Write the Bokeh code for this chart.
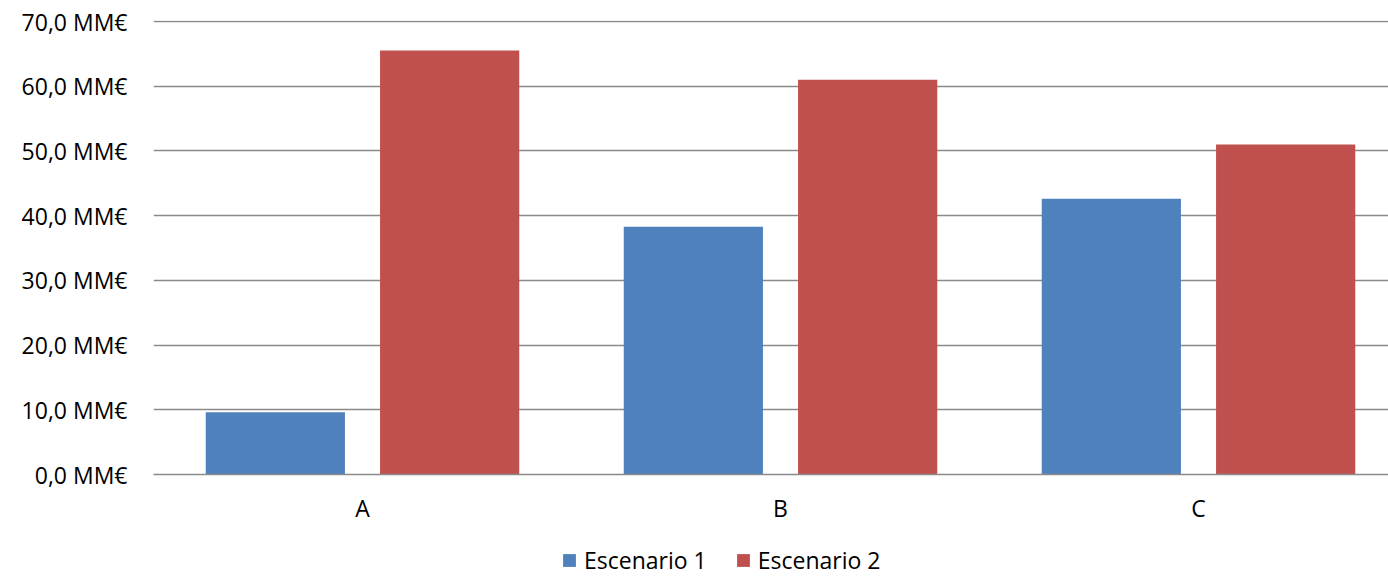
import numpy as np
from bokeh.plotting import figure
from bokeh.layouts import column
from bokeh.models import Range1d, FixedTicker, Legend, LegendItem
from bokeh.embed import file_html
from bokeh.resources import INLINE

categories = ["A", "B", "C"]
escenario_1 = [9.6, 38.3, 42.6]
escenario_2 = [65.5, 61.0, 51.0]
series_names = ["Escenario 1", "Escenario 2"]
y_ticks = [0, 10, 20, 30, 40, 50, 60, 70]
y_tick_labels = ["0,0 MM€", "10,0 MM€", "20,0 MM€", "30,0 MM€", "40,0 MM€",
                 "50,0 MM€", "60,0 MM€", "70,0 MM€"]

FONT = "Open Sans"
FS = "23px"
BLUE = "#4F81BD"
RED = "#C0504D"
GRID = "#8a8a8a"

W = 1388
H_MAIN, H_LEG = 536, 40
LEFT, TOP = 153, 20
BOTTOM = H_MAIN - 474
frame_w = W - LEFT
cat_px = 418.0
px_per_unit = 6.471
y_end = 70 + 1.0 / px_per_unit

p = figure(width=W, height=H_MAIN, output_backend="svg", toolbar_location=None,
           x_range=Range1d(0, frame_w / cat_px), y_range=Range1d(0, y_end),
           min_border_left=LEFT, min_border_right=0, min_border_top=TOP,
           min_border_bottom=BOTTOM)
p.outline_line_color = None
p.background_fill_color = "white"
p.border_fill_color = "white"

centers = np.arange(len(categories)) + 0.5
bw = 0.333
off = 0.2085
p.vbar(x=centers - off, top=escenario_1, width=bw, bottom=0,
       fill_color=BLUE, line_color=None)
p.vbar(x=centers + off, top=escenario_2, width=bw, bottom=0,
       fill_color=RED, line_color=None)

p.xaxis.ticker = FixedTicker(ticks=list(centers))
p.xaxis.major_label_overrides = {float(c): cat for c, cat in zip(centers, categories)}
p.xaxis.major_tick_line_color = None
p.xaxis.minor_tick_line_color = None
p.xaxis.axis_line_color = GRID
p.xaxis.axis_line_width = 1.5
p.xaxis.major_label_standoff = 11
p.xaxis.major_label_text_font = FONT
p.xaxis.major_label_text_font_size = FS
p.xaxis.major_label_text_color = "black"

p.yaxis.ticker = FixedTicker(ticks=y_ticks)
p.yaxis.major_label_overrides = {t: l for t, l in zip(y_ticks, y_tick_labels)}
p.yaxis.major_tick_line_color = None
p.yaxis.minor_tick_line_color = None
p.yaxis.axis_line_color = None
p.yaxis.major_label_standoff = 20
p.yaxis.major_label_text_font = FONT
p.yaxis.major_label_text_font_size = FS
p.yaxis.major_label_text_color = "black"

p.xgrid.grid_line_color = None
p.ygrid.ticker = FixedTicker(ticks=y_ticks)
p.ygrid.grid_line_color = GRID
p.ygrid.grid_line_width = 1.5

# legend strip below the chart (frames are aligned in the column)
pl = figure(width=W, height=H_LEG, output_backend="svg", toolbar_location=None,
            x_range=Range1d(0, 1), y_range=Range1d(0, 1),
            min_border_left=0, min_border_right=0, min_border_top=0,
            min_border_bottom=0)
pl.axis.visible = False
pl.grid.visible = False
pl.outline_line_color = None
# swatch renderers sit outside the visible range; only the legend shows them
l1 = pl.vbar(x=[10], top=[1], width=0.1, fill_color=BLUE, line_color=None)
l2 = pl.vbar(x=[10], top=[1], width=0.1, fill_color=RED, line_color=None)
legend = Legend(items=[LegendItem(label=series_names[0], renderers=[l1]),
                       LegendItem(label=series_names[1], renderers=[l2])],
                orientation="horizontal", location=(408, 0),
                label_text_font=FONT, label_text_font_size=FS,
                label_text_color="black", glyph_width=16, glyph_height=16,
                spacing=28, padding=0, margin=0, label_standoff=7,
                border_line_color=None, background_fill_alpha=0)
pl.add_layout(legend, "center")

layout = column(p, pl, spacing=0)
open("out.html", "w").write(file_html(layout, INLINE))
